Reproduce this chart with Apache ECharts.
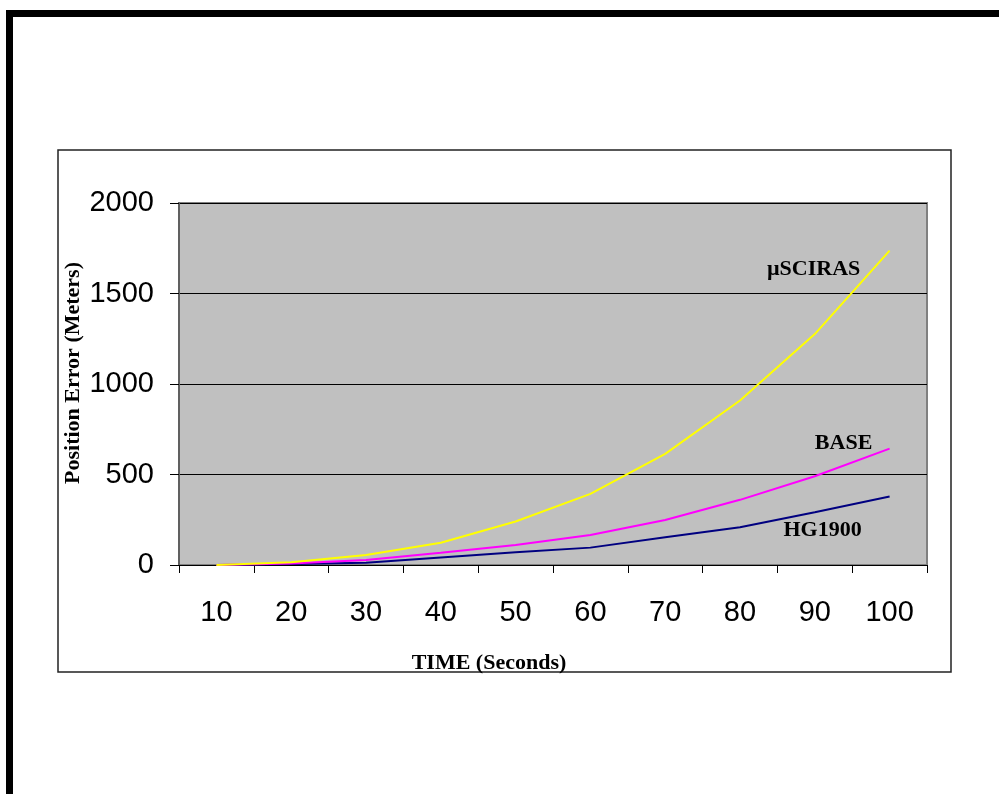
<!DOCTYPE html>
<html>
<head>
<meta charset="utf-8">
<script src="https://cdn.jsdelivr.net/npm/echarts@6/dist/echarts.min.js"></script>
<style>
html,body{margin:0;padding:0;background:#fff;}
#chart{width:999px;height:794px;}
</style>
</head>
<body>
<div id="chart"></div>
<script>
const categories = ['10','20','30','40','50','60','70','80','90','100'];
const hg1900 = [0, 5, 13, 42, 70, 96, 153, 208, 292, 378];
const base = [0, 8, 28, 68, 110, 166, 249, 360, 490, 643];
const msciras = [0, 15, 55, 123, 240, 393, 614, 909, 1276, 1737];
const yTicks = [0, 500, 1000, 1500, 2000];
const yTitle = 'Position Error (Meters)';
const xTitle = 'TIME (Seconds)';

const chart = echarts.init(document.getElementById('chart'), null, {renderer:'canvas'});

function endMark(name, arr, offset) {
  const last = arr.length - 1;
  return {
    symbol: 'circle',
    symbolSize: 0,
    silent: true,
    data: [{
      name: name,
      coord: [categories[last], arr[last]],
      label: {
        show: true,
        formatter: name,
        position: 'inside',
        offset: offset,
        color: '#000',
        fontFamily: 'Liberation Serif',
        fontWeight: 'bold',
        fontSize: 22
      }
    }]
  };
}

const option = {
  animation: false,
  backgroundColor: '#fff',
  graphic: [
    {type:'rect', shape:{x:6, y:10, width:993, height:7}, style:{fill:'#000'}, z:0},
    {type:'rect', shape:{x:6, y:10, width:7, height:784}, style:{fill:'#000'}, z:0},
    {type:'rect', shape:{x:58, y:150, width:893, height:522}, style:{fill:'none', stroke:'#222', lineWidth:1.5}, z:0},
    {type:'text', x:73, y:373, rotation:Math.PI/2, z:10,
     style:{text:yTitle, align:'center', verticalAlign:'middle', fill:'#000',
            font:'bold 22px "Liberation Serif"'}}
  ],
  grid: {
    left: 179, top: 203, right: 72, bottom: 229,
    show: true,
    backgroundColor: '#C0C0C0',
    borderColor: '#808080',
    borderWidth: 2
  },
  xAxis: {
    type: 'category',
    data: categories,
    boundaryGap: true,
    name: xTitle,
    nameLocation: 'middle',
    nameGap: 87,
    nameTextStyle: {fontFamily:'Liberation Serif', fontWeight:'bold', fontSize:22, color:'#000', padding:[0,128,0,0]},
    axisLine: {show:true, lineStyle:{color:'#000', width:1}},
    axisTick: {show:true, interval:0, length:8, lineStyle:{color:'#000'}},
    axisLabel: {interval:0, margin:33, fontFamily:'Liberation Sans', fontSize:29, color:'#000'},
    splitLine: {show:false}
  },
  yAxis: {
    type: 'value',
    min: yTicks[0],
    max: yTicks[yTicks.length-1],
    interval: yTicks[1]-yTicks[0],
    axisLine: {show:true, lineStyle:{color:'#606060', width:2}},
    axisTick: {show:true, length:9, lineStyle:{color:'#000'}},
    axisLabel: {margin:25, fontFamily:'Liberation Sans', fontSize:29, color:'#000', formatter: function(v){ return String(v); }},
    splitLine: {show:true, lineStyle:{color:'#000', width:1}}
  },
  series: [
    {
      name: 'HG1900', type: 'line', data: hg1900, showSymbol: false,
      lineStyle: {color:'#000080', width:2}, itemStyle:{color:'#000080'},
      markPoint: endMark('HG1900', hg1900, [-67, 34])
    },
    {
      name: 'BASE', type: 'line', data: base, showSymbol: false,
      lineStyle: {color:'#FF00FF', width:2}, itemStyle:{color:'#FF00FF'},
      markPoint: endMark('BASE', base, [-46, -5])
    },
    {
      name: 'µSCIRAS', type: 'line', data: msciras, showSymbol: false,
      lineStyle: {color:'#FFFF00', width:2}, itemStyle:{color:'#FFFF00'},
      markPoint: endMark('µSCIRAS', msciras, [-76, 19])
    }
  ]
};
chart.setOption(option);
</script>
</body>
</html>
